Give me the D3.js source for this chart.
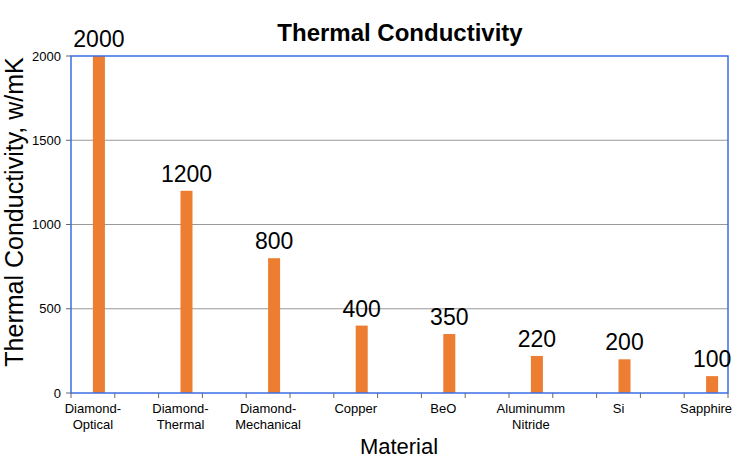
<!DOCTYPE html>
<html><head><meta charset="utf-8">
<script src="https://cdn.jsdelivr.net/npm/d3@7"></script>
<style>body{margin:0;background:#fff}svg{font-family:"Liberation Sans",Arial,sans-serif}</style>
</head><body>
<svg id="c" width="740" height="469"></svg>
<script>
const categories = [["Diamond-","Optical"],["Diamond-","Thermal"],["Diamond-","Mechanical"],["Copper"],["BeO"],["Aluminumm","Nitride"],["Si"],["Sapphire"]];
const values = [2000,1200,800,400,350,220,200,100];
const yTicks = [0,500,1000,1500,2000];

const svg = d3.select("#c");
const L=71,R=728,T=56,B=393;
const x = d3.scaleLinear().domain([0,7.5]).range([L,R]);
const y = d3.scaleLinear().domain([0,2000]).range([B,T]);
const bw = x(0.137)-x(0);

svg.selectAll(".grid").data(yTicks.filter(t=>t>0&&t<2000)).enter().append("line")
  .attr("x1",L).attr("x2",R).attr("y1",d=>y(d)).attr("y2",d=>y(d))
  .attr("stroke","#999").attr("stroke-width",1);

svg.selectAll(".bar").data(values).enter().append("rect")
  .attr("x",(d,i)=>x(i+0.25)).attr("width",bw)
  .attr("y",d=>y(d)).attr("height",d=>B-y(d)).attr("fill","#ED7D31");

// frame
svg.append("rect").attr("x",L).attr("y",T).attr("width",R-L).attr("height",B-T)
  .attr("fill","none").attr("stroke","#3a6fe8").attr("stroke-width",1.5);

// x ticks
svg.selectAll(".xt").data(d3.range(0,16)).enter().append("line")
  .attr("x1",d=>x(d/2)).attr("x2",d=>x(d/2)).attr("y1",B).attr("y2",B+5)
  .attr("stroke","#666").attr("stroke-width",1);
// y ticks
svg.selectAll(".yt").data(yTicks).enter().append("line")
  .attr("x1",L-5).attr("x2",L).attr("y1",d=>y(d)).attr("y2",d=>y(d))
  .attr("stroke","#666");
svg.selectAll(".yl").data(yTicks).enter().append("text")
  .attr("x",L-10).attr("y",d=>y(d)+4.5).attr("text-anchor","end")
  .attr("font-size",13).text(d=>d);

// x labels
const xl = svg.selectAll(".xl").data(categories).enter().append("text")
  .attr("text-anchor","middle").attr("font-size",13);
xl.each(function(d,i){
  const t=d3.select(this);
  d.forEach((s,j)=>t.append("tspan").attr("x",x(i+0.25)+bw/2-6).attr("y",B+20+j*16).text(s));
});

// value labels
svg.selectAll(".vl").data(values).enter().append("text")
  .attr("x",(d,i)=>x(i+0.25)+bw/2).attr("y",d=>y(d)-9)
  .attr("text-anchor","middle").attr("font-size",23).text(d=>d);

svg.append("text").attr("x",400).attr("y",41).attr("text-anchor","middle")
  .attr("font-size",24).attr("font-weight","bold").text("Thermal Conductivity");
svg.append("text").attr("x",399).attr("y",454).attr("text-anchor","middle")
  .attr("font-size",22).text("Material");
svg.append("text").attr("transform","translate(23,212) rotate(-90)").attr("text-anchor","middle")
  .attr("font-size",25).text("Thermal Conductivity, w/mK");
</script>
</body></html>
